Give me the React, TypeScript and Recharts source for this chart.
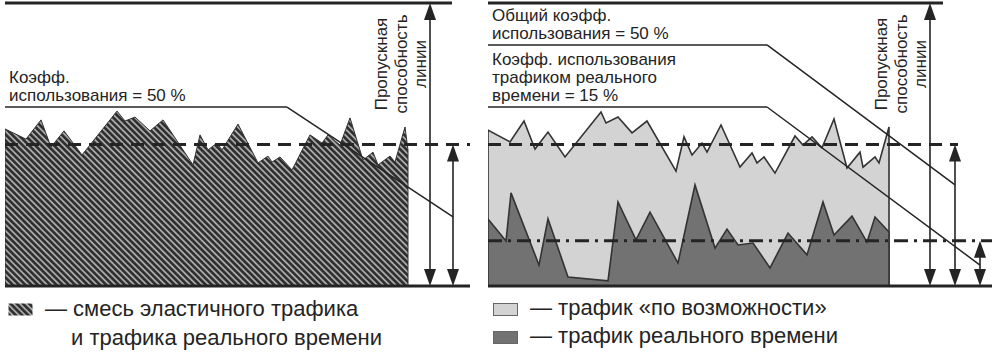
import React from 'react';
import { ComposedChart, Area, XAxis, YAxis, ReferenceLine, Legend } from 'recharts';

const FONT = '"Liberation Sans", Arial, sans-serif';
const INK = '#242424';

// time in arbitrary units (traffic window = 0..100), load in % of line capacity
const mixTime = [0, 0, 5.25, 9, 11.5, 14.75, 19.25, 28, 30, 32.5, 36.25, 39.5, 47, 48.75, 50.75, 53, 54.25, 58.25, 63.25, 65.75, 66.75, 68.75, 71.75, 76.25, 79.25, 80.75, 83.75, 86.25, 89.5, 92, 93.25, 96.25, 97.5, 100, 100.75, 100.75];
const mixLoad = [0, 55.5, 51.9, 58.7, 49.1, 54.8, 46.3, 61.8, 58.3, 59.7, 54.8, 58.7, 42.8, 53.4, 48.1, 50.5, 48.1, 57.2, 43.5, 45.9, 43.8, 45.6, 41.0, 53.4, 50.5, 53.4, 49.8, 59.4, 44.5, 47.3, 42.8, 45.9, 43.8, 56.2, 48, 0];

const bestEffortTime = [0, 0, 5.5, 9, 11.75, 15, 19.25, 28.25, 29.5, 32.5, 36, 39.75, 47, 49, 51, 53.5, 54.75, 58.25, 63, 66, 67.25, 69, 71.75, 76.75, 78.75, 81, 83.5, 86.5, 89.75, 93, 93.75, 96.75, 97.75, 100.25, 100.25];
const bestEffortLoad = [0, 55.1, 50.9, 58.3, 48.4, 54.4, 45.6, 61.5, 57.6, 59.7, 54.1, 58.3, 40.6, 52.7, 46.3, 50.5, 47.3, 56.9, 42.0, 47.0, 43.5, 45.6, 39.9, 53.0, 49.8, 52.7, 48.8, 59.0, 41.7, 47.3, 42.0, 45.6, 43.5, 56.2, 0];

const realTimeTime = [0, 0, 4.5, 5.75, 12.75, 15, 20, 30, 32.5, 37, 40.5, 47.5, 51.75, 56.75, 59.75, 62.5, 66.25, 70.5, 75, 79.75, 83.75, 86.5, 91, 94.75, 96.75, 100.25, 100.25];
const realTimeLoad = [0, 23.7, 15.9, 32.9, 7.4, 23.7, 3.2, 1.8, 29.7, 16.3, 26.1, 8.1, 35.7, 13.4, 20.1, 14.5, 15.2, 6.4, 18.7, 11.0, 29.7, 18.0, 24.7, 15.5, 24.4, 19.1, 0];

const CAPACITY = 100;
const TOTAL_UTIL = 50;
const REALTIME_UTIL = 16;

const capacityText = ['Пропускная', 'способность', 'линии'];
const mixNote = ['Коэфф.', 'использования = 50 %'];
const totalNote = ['Общий коэфф.', 'использования = 50 %'];
const realTimeNote = ['Коэфф. использования', 'трафиком реального', 'времени = 15 %'];

const mixName = 'смесь эластичного трафика\nи трафика реального времени';
const bestEffortName = 'трафик «по возможности»';
const realTimeName = 'трафик реального времени';

const zip = (ts: number[], vs: number[]) => ts.map((t, i) => ({ t, v: vs[i] }));
const mixData = zip(mixTime, mixLoad);
const bestEffortData = zip(bestEffortTime, bestEffortLoad);
const realTimeData = zip(realTimeTime, realTimeLoad);

const DoubleArrow = (props: any) => {
  const { x1, y1, y2 } = props;
  const top = Math.min(y1, y2);
  const bottom = Math.max(y1, y2);
  const hw = 6;
  const hl = 17;
  return (
    <g>
      <line x1={x1} y1={top + hl - 2} x2={x1} y2={bottom - hl + 2} stroke={INK} strokeWidth={1.6} />
      <path d={`M${x1},${top} L${x1 - hw},${top + hl} L${x1 + hw},${top + hl} Z`} fill={INK} />
      <path d={`M${x1},${bottom} L${x1 - hw},${bottom - hl} L${x1 + hw},${bottom - hl} Z`} fill={INK} />
    </g>
  );
};

const NoteLabel = ({ viewBox, lines }: any) => {
  if (!viewBox) return null;
  const n = lines.length;
  return (
    <text fontFamily={FONT} fontSize={17} fill={INK}>
      {lines.map((l: string, i: number) => (
        <tspan key={i} x={viewBox.x + 4} y={viewBox.y - 6 - (n - 1 - i) * 18}>{l}</tspan>
      ))}
    </text>
  );
};

const CapacityLabel = ({ viewBox }: any) => {
  if (!viewBox) return null;
  const cy = viewBox.y + 61;
  const offs = [-43, -23, -4];
  return (
    <g>
      {capacityText.map((l, i) => {
        const bx = viewBox.x + offs[i];
        return (
          <text key={i} x={bx} y={cy} transform={`rotate(-90 ${bx} ${cy})`} textAnchor="middle"
            fontFamily={FONT} fontSize={17} fill={INK}>{l}</text>
        );
      })}
    </g>
  );
};

const swatchFill: Record<string, string> = {
  [mixName]: 'url(#hatch)',
  [bestEffortName]: '#d3d3d3',
  [realTimeName]: '#727272',
};

const LegendBlock = ({ payload, swatchLeft, textLeft, rowHeight }: any) => (
  <div style={{ position: 'relative', fontFamily: FONT, fontSize: 22, color: INK }}>
    {(payload || []).map((entry: any, i: number) => {
      const lines = String(entry.value).split('\n');
      return (
        <div key={i} style={{ position: 'relative', height: rowHeight * lines.length }}>
          <svg width={25} height={13} style={{ position: 'absolute', left: swatchLeft, top: 9 }}>
            <rect x={0.5} y={0.5} width={24} height={12} fill={swatchFill[entry.value]}
              stroke={entry.value === mixName ? 'none' : '#666'} />
          </svg>
          <div style={{ position: 'absolute', left: textLeft, top: 0, lineHeight: rowHeight + 'px', whiteSpace: 'nowrap' }}>
            {lines.map((l, j) => (
              <div key={j} style={{ paddingLeft: j === 0 ? 0 : 26 }}>{j === 0 ? '— ' + l : l}</div>
            ))}
          </div>
        </div>
      );
    })}
  </div>
);

export default function App() {
  return (
    <div style={{ position: 'absolute', left: 0, top: 0, width: 1001, height: 357, background: '#fff', overflow: 'hidden' }}>
      <div style={{ position: 'absolute', left: 0, top: 0 }}>
        <ComposedChart width={480} height={357} margin={{ top: 3, right: 10, bottom: 71, left: 5 }}>
          <defs>
            <pattern id="hatch" width="4.4" height="4.4" patternUnits="userSpaceOnUse" patternTransform="rotate(-45)">
              <rect width="4.4" height="4.4" fill="#a9a9a9" />
              <rect width="2.6" height="4.4" fill="#2e2e2e" />
            </pattern>
          </defs>
          <XAxis type="number" dataKey="t" domain={[0, 116.25]} hide allowDataOverflow />
          <YAxis type="number" domain={[0, 100]} hide allowDataOverflow />
          <Area data={mixData} dataKey="v" name={mixName} type="linear" fill="url(#hatch)" fillOpacity={1}
            stroke="#333" strokeWidth={1} legendType="rect" isAnimationActive={false} />
          <ReferenceLine y={0} stroke={INK} strokeWidth={3} />
          <ReferenceLine y={TOTAL_UTIL} stroke={INK} strokeWidth={3} strokeDasharray="13 8" />
          <ReferenceLine segment={[{ x: 0, y: CAPACITY }, { x: 111.75, y: CAPACITY }]} stroke={INK} strokeWidth={3} />
          <ReferenceLine segment={[{ x: 106.25, y: CAPACITY }, { x: 106.25, y: 0 }]} shape={DoubleArrow}
            label={<CapacityLabel />} />
          <ReferenceLine segment={[{ x: 112, y: TOTAL_UTIL }, { x: 112, y: 0 }]} shape={DoubleArrow} />
          <ReferenceLine segment={[{ x: 0, y: 63.25 }, { x: 70.5, y: 63.25 }]} stroke={INK} strokeWidth={1.5}
            label={<NoteLabel lines={mixNote} />} />
          <ReferenceLine segment={[{ x: 70.5, y: 63.25 }, { x: 112, y: 24.4 }]} stroke={INK} strokeWidth={1.5} />
          <Legend verticalAlign="middle" align="center" layout="horizontal"
            wrapperStyle={{ top: 294, left: 0, width: 480 }}
            content={(p: any) => <LegendBlock payload={p.payload} swatchLeft={8} textLeft={45} rowHeight={29} />} />
        </ComposedChart>
      </div>
      <div style={{ position: 'absolute', left: 480, top: 0 }}>
        <ComposedChart width={521} height={357} margin={{ top: 3, right: 9, bottom: 71, left: 8 }}>
          <XAxis type="number" dataKey="t" domain={[0, 126]} hide allowDataOverflow />
          <YAxis type="number" domain={[0, 100]} hide allowDataOverflow />
          <Area data={bestEffortData} dataKey="v" name={bestEffortName} type="linear" fill="#d3d3d3" fillOpacity={1}
            stroke="#333" strokeWidth={1.6} legendType="rect" isAnimationActive={false} />
          <Area data={realTimeData} dataKey="v" name={realTimeName} type="linear" fill="#727272" fillOpacity={1}
            stroke="#333" strokeWidth={1.6} legendType="rect" isAnimationActive={false} />
          <ReferenceLine y={0} stroke={INK} strokeWidth={3} />
          <ReferenceLine segment={[{ x: 0, y: TOTAL_UTIL }, { x: 117.5, y: TOTAL_UTIL }]} stroke={INK} strokeWidth={3} strokeDasharray="13 8" />
          <ReferenceLine y={REALTIME_UTIL} stroke={INK} strokeWidth={3} strokeDasharray="14 6 3 6" />
          <ReferenceLine segment={[{ x: 0, y: CAPACITY }, { x: 113.75, y: CAPACITY }]} stroke={INK} strokeWidth={3} />
          <ReferenceLine segment={[{ x: 110.5, y: CAPACITY }, { x: 110.5, y: 0 }]} shape={DoubleArrow}
            label={<CapacityLabel />} />
          <ReferenceLine segment={[{ x: 116.75, y: TOTAL_UTIL }, { x: 116.75, y: 0 }]} shape={DoubleArrow} />
          <ReferenceLine segment={[{ x: 123, y: REALTIME_UTIL }, { x: 123, y: 0 }]} shape={DoubleArrow} />
          <ReferenceLine segment={[{ x: 0, y: 85.2 }, { x: 69.75, y: 85.2 }]} stroke={INK} strokeWidth={1.5}
            label={<NoteLabel lines={totalNote} />} />
          <ReferenceLine segment={[{ x: 69.75, y: 85.2 }, { x: 116.75, y: 35.7 }]} stroke={INK} strokeWidth={1.5} />
          <ReferenceLine segment={[{ x: 0, y: 63.25 }, { x: 69.75, y: 63.25 }]} stroke={INK} strokeWidth={1.5}
            label={<NoteLabel lines={realTimeNote} />} />
          <ReferenceLine segment={[{ x: 69.75, y: 63.25 }, { x: 123, y: 7.4 }]} stroke={INK} strokeWidth={1.5} />
          <Legend verticalAlign="middle" align="center" layout="horizontal"
            wrapperStyle={{ top: 294, left: 0, width: 521 }}
            content={(p: any) => <LegendBlock payload={p.payload} swatchLeft={13} textLeft={50} rowHeight={28} />} />
        </ComposedChart>
      </div>
    </div>
  );
}
